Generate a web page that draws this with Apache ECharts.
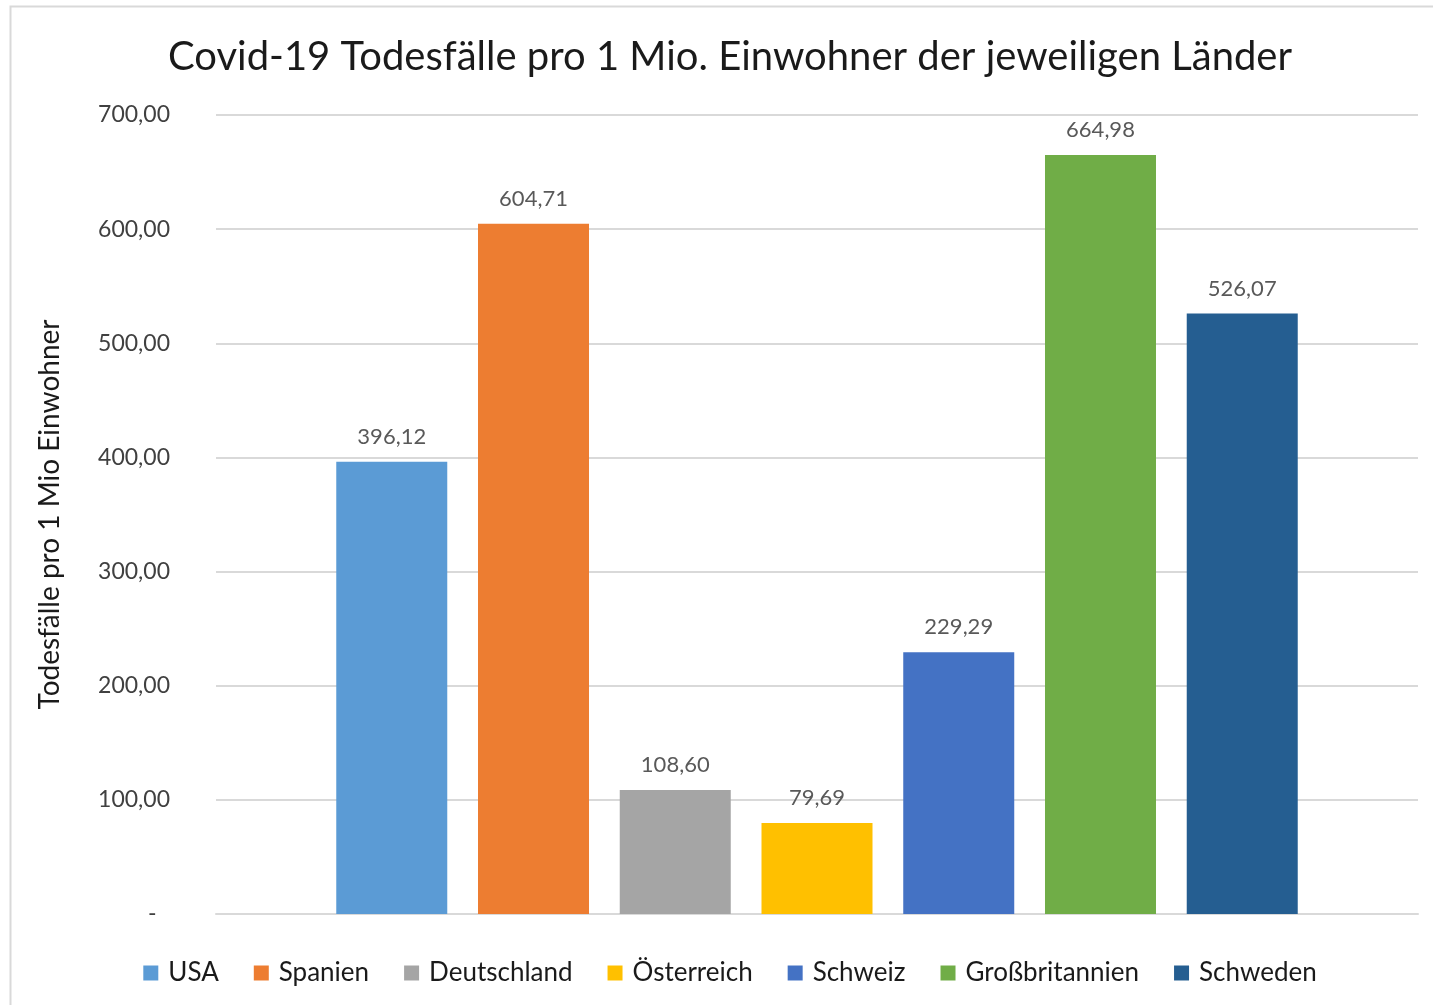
<!DOCTYPE html>
<html>
<head>
<meta charset="utf-8">
<script src="https://cdn.jsdelivr.net/npm/echarts@6/dist/echarts.min.js"></script>
<style>
html,body{margin:0;padding:0;overflow:hidden;background:#fff;}
#chart{width:1460px;height:1005px;}
</style>
</head>
<body>
<div id="chart"></div>
<script>
const titleText = 'Covid-19 Todesfälle pro 1 Mio. Einwohner der jeweiligen Länder';
const yAxisName = 'Todesfälle pro 1 Mio Einwohner';
const countries = ['USA', 'Spanien', 'Deutschland', 'Österreich', 'Schweiz', 'Großbritannien', 'Schweden'];
const values = [396.12, 604.71, 108.60, 79.69, 229.29, 664.98, 526.07];
const yTicks = [0, 100, 200, 300, 400, 500, 600, 700];
const palette = ['#5B9BD5', '#ED7D31', '#A5A5A5', '#FFC000', '#4472C4', '#70AD47', '#255E91'];

const FONT = 'Lato';
const fmt = v => v.toFixed(2).replace('.', ',');

const series = countries.map((name, i) => ({
  name: name,
  type: 'bar',
  data: [values[i]],
  barWidth: 111,
  barGap: '27.7%',
  itemStyle: { color: palette[i] },
  label: {
    show: true,
    position: 'top',
    distance: 14,
    formatter: p => fmt(p.value),
    color: '#595959',
    fontFamily: FONT,
    fontSize: 22
  }
}));

const chart = echarts.init(document.getElementById('chart'));
chart.setOption({
  animation: false,
  backgroundColor: '#fff',
  color: palette,
  graphic: [{
    type: 'rect',
    shape: { x: 10.5, y: 6.5, width: 1429, height: 1010 },
    style: { fill: 'none', stroke: '#d9d9d9', lineWidth: 2 },
    silent: true
  }],
  title: {
    text: titleText,
    left: 'center',
    top: 32,
    textStyle: { fontFamily: FONT, fontSize: 40, fontWeight: 'normal', color: '#1a1a1a' }
  },
  legend: {
    data: countries,
    left: 'center',
    top: 955,
    icon: 'rect',
    itemWidth: 15,
    itemHeight: 15,
    itemGap: 35,
    textStyle: { fontFamily: FONT, fontSize: 26, color: '#1a1a1a', padding: [0, 0, 0, 5] }
  },
  grid: { left: 216, right: 42, top: 115, bottom: 91 },
  xAxis: {
    type: 'category',
    data: [''],
    axisLine: { show: true, lineStyle: { color: '#d9d9d9', width: 2 } },
    axisTick: { show: false },
    axisLabel: { show: false }
  },
  yAxis: {
    type: 'value',
    min: yTicks[0],
    max: yTicks[yTicks.length - 1],
    interval: 100,
    name: yAxisName,
    nameLocation: 'middle',
    nameRotate: 90,
    nameGap: 152,
    nameTextStyle: { fontFamily: FONT, fontSize: 28, color: '#1a1a1a' },
    axisLine: { show: false },
    axisTick: { show: false },
    splitLine: { lineStyle: { color: '#d9d9d9', width: 2 } },
    axisLabel: {
      margin: 46,
      fontFamily: FONT,
      fontSize: 23,
      color: '#404040',
      formatter: v => v === 0 ? '-\u2007' : fmt(v)
    }
  },
  series: series
});
</script>
</body>
</html>
